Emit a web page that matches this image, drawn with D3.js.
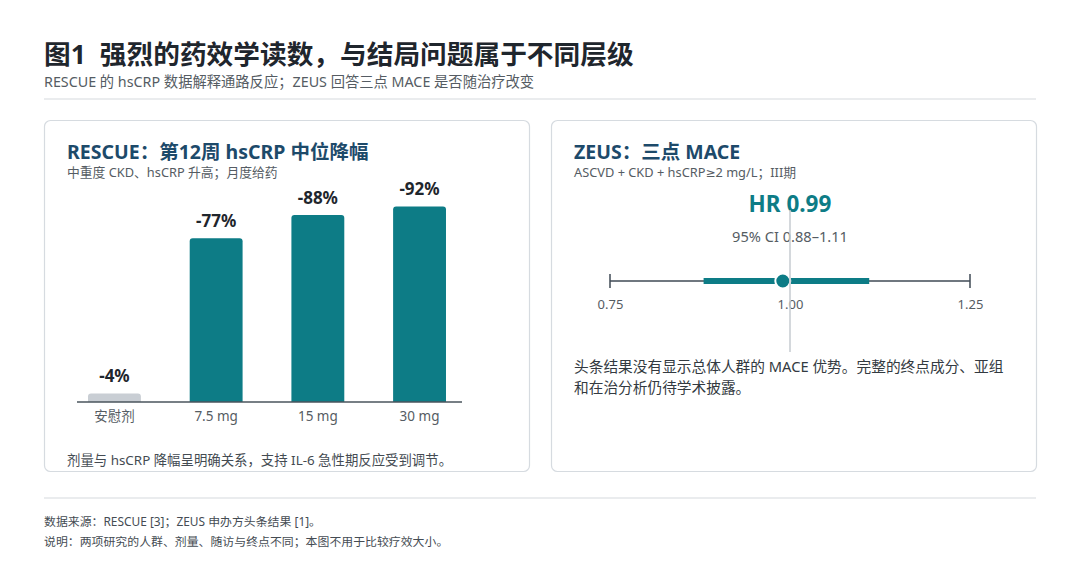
<!DOCTYPE html>
<html lang="zh">
<head>
<meta charset="UTF-8">
<title>图1</title>
<style>
  html, body { margin: 0; padding: 0; background: #fff; }
  svg { display: block; font-family: "Noto Sans", "Noto Sans CJK SC", sans-serif; }
  .pre { white-space: pre; }
</style>
</head>
<body>
<svg id="chart" width="1080" height="572"></svg>
<script src="https://d3js.org/d3.v7.min.js"></script>
<script>
// data
const doses = ["安慰剂", "7.5 mg", "15 mg", "30 mg"];
const hsCRPdrop = [4, 77, 88, 92];          // median % reduction at week 12
const hrPoint = 0.99;
const hrLow = 0.88;
const hrHigh = 1.11;
const hrTicks = [0.75, 1.00, 1.25];

const svg = d3.select("#chart");
const font = "\"Noto Sans\", \"Noto Sans CJK SC\", sans-serif";
const ink = "#1f262d", navy = "#1d4a6a", grey = "#555c63", teal = "#0d7c86";

// header
svg.append("text").attr("class", "pre").attr("x", 44).attr("y", 64)
  .attr("font-size", 26.7).attr("font-weight", 700).attr("fill", ink)
  .text("图1  强烈的药效学读数，与结局问题属于不同层级");
svg.append("text").attr("x", 44).attr("y", 87)
  .attr("font-size", 14.3).attr("fill", grey)
  .text("RESCUE 的 hsCRP 数据解释通路反应；ZEUS 回答三点 MACE 是否随治疗改变");
svg.append("line").attr("x1", 44).attr("x2", 1036).attr("y1", 99).attr("y2", 99)
  .attr("stroke", "#d5dade").attr("stroke-width", 1.2);

// cards
[44, 551].forEach(x => {
  svg.append("rect").attr("x", x + 0.5).attr("y", 120.5)
    .attr("width", 485).attr("height", 351).attr("rx", 6)
    .attr("fill", "#fff").attr("stroke", "#d6dbe0").attr("stroke-width", 1.2);
});

function cardHead(x, title, subParts) {
  svg.append("text").attr("x", x).attr("y", 159)
    .attr("font-size", 19.5).attr("font-weight", 700).attr("fill", navy).text(title);
  const t = svg.append("text").attr("x", x).attr("y", 177)
    .attr("font-size", 12.8).attr("fill", grey);
  subParts.forEach(p => {
    const s = t.append("tspan").text(p);
    if (p === "≥") s.attr("font-family", "\"DejaVu Sans\", sans-serif").attr("font-size", 12);
  });
}
cardHead(67, "RESCUE：第12周 hsCRP 中位降幅", ["中重度 CKD、hsCRP 升高；月度给药"]);
cardHead(574, "ZEUS：三点 MACE", ["ASCVD + CKD + hsCRP", "≥", "2 mg/L；III期"]);

// left: bar chart
const x = d3.scaleBand().domain(doses).range([63.6, 470.4]).paddingInner(0.48).paddingOuter(0.24);
const y = d3.scaleLinear().domain([0, 100]).range([402, 189.4]);

function topRounded(x0, y0, w, h, r) {
  r = Math.min(r, h);
  return `M${x0},${y0 + h}V${y0 + r}Q${x0},${y0} ${x0 + r},${y0}H${x0 + w - r}Q${x0 + w},${y0} ${x0 + w},${y0 + r}V${y0 + h}Z`;
}

const bars = svg.append("g");
bars.selectAll("path").data(doses).join("path")
  .attr("d", (d, i) => topRounded(x(d), y(hsCRPdrop[i]), x.bandwidth(), y(0) - y(hsCRPdrop[i]), 3))
  .attr("fill", (d, i) => i === 0 ? "#c9ced4" : teal);
bars.selectAll("text").data(doses).join("text")
  .attr("x", d => x(d) + x.bandwidth() / 2)
  .attr("y", (d, i) => y(hsCRPdrop[i]) - 11)
  .attr("text-anchor", "middle").attr("font-size", 17).attr("font-weight", 700).attr("fill", ink)
  .text((d, i) => `-${hsCRPdrop[i]}%`);

svg.append("line").attr("x1", 77).attr("x2", 462).attr("y1", y(0)).attr("y2", y(0))
  .attr("stroke", "#4a545d").attr("stroke-width", 1.3);

const xAxis = svg.append("g").attr("transform", `translate(0,${y(0)})`)
  .call(d3.axisBottom(x).tickSize(0).tickPadding(9));
xAxis.select(".domain").remove();
xAxis.selectAll("text").attr("font-size", 13.5).attr("fill", grey).attr("font-family", font);

svg.append("text").attr("x", 67).attr("y", 465)
  .attr("font-size", 13.4).attr("fill", "#444b52")
  .text("剂量与 hsCRP 降幅呈明确关系，支持 IL-6 急性期反应受到调节。");

// right: forest point
const hx = d3.scaleLinear().domain([0.75, 1.25]).range([610, 970]);
const ay = 281;

svg.append("text").attr("x", hx(1)).attr("y", 212)
  .attr("text-anchor", "middle").attr("font-size", 22.5).attr("font-weight", 700).attr("fill", teal)
  .text(`HR ${hrPoint.toFixed(2)}`);
svg.append("text").attr("x", hx(1)).attr("y", 242)
  .attr("text-anchor", "middle").attr("font-size", 14.6).attr("fill", grey)
  .text(`95% CI ${hrLow.toFixed(2)}–${hrHigh.toFixed(2)}`);

const axisCol = "#3f4a54";
svg.append("line").attr("x1", hx(0.75)).attr("x2", hx(1.25)).attr("y1", ay).attr("y2", ay)
  .attr("stroke", axisCol).attr("stroke-width", 1.5);
hx.domain().forEach(v => {
  svg.append("line").attr("x1", hx(v)).attr("x2", hx(v)).attr("y1", ay - 7).attr("y2", ay + 7)
    .attr("stroke", axisCol).attr("stroke-width", 1.5);
});

const hAxis = svg.append("g").attr("transform", `translate(0,${ay})`)
  .call(d3.axisBottom(hx).tickValues(hrTicks).tickFormat(d3.format(".2f")).tickSize(0).tickPadding(19));
hAxis.select(".domain").remove();
hAxis.selectAll("text").attr("font-size", 13).attr("fill", grey).attr("font-family", font);

svg.append("line").attr("x1", hx(hrLow)).attr("x2", hx(hrHigh)).attr("y1", ay).attr("y2", ay)
  .attr("stroke", teal).attr("stroke-width", 6);
svg.append("circle").attr("cx", hx(hrPoint)).attr("cy", ay).attr("r", 7.5)
  .attr("fill", teal).attr("stroke", "#fff").attr("stroke-width", 2);

svg.append("line").attr("x1", hx(1)).attr("x2", hx(1)).attr("y1", 210).attr("y2", 352)
  .attr("stroke", "#c6cbd0").attr("stroke-width", 1.5);

const note = ["头条结果没有显示总体人群的 MACE 优势。完整的终点成分、亚组", "和在治分析仍待学术披露。"];
svg.append("g").selectAll("text").data(note).join("text")
  .attr("x", 574).attr("y", (d, i) => 372 + i * 21)
  .attr("font-size", 14.7).attr("fill", "#333a41").text(d => d);

// footer
svg.append("line").attr("x1", 44).attr("x2", 1036).attr("y1", 498).attr("y2", 498)
  .attr("stroke", "#d5dade").attr("stroke-width", 1.2);
const foot = ["数据来源：RESCUE [3]；ZEUS 申办方头条结果 [1]。", "说明：两项研究的人群、剂量、随访与终点不同；本图不用于比较疗效大小。"];
svg.append("g").selectAll("text").data(foot).join("text")
  .attr("x", 44).attr("y", (d, i) => 526 + i * 20)
  .attr("font-size", 11.9).attr("fill", "#454c53").text(d => d);
</script>
</body>
</html>
